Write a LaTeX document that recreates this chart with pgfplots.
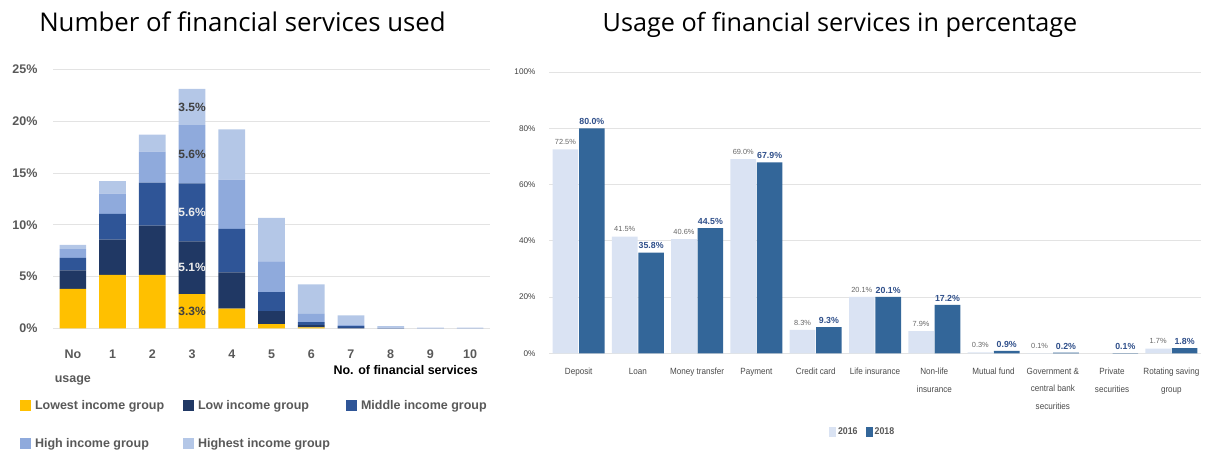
\documentclass[border=0pt]{standalone}
\usepackage{fontspec}
\setmainfont{Liberation Sans}
\newfontfamily\titlefont{Open Sans}
\newfontfamily\narrowfont[FakeStretch=0.9]{Liberation Sans}
\usepackage{pgfplots}
\pgfplotsset{compat=1.18}
\definecolor{cLowest}{HTML}{FFC000}
\definecolor{cLow}{HTML}{203864}
\definecolor{cMid}{HTML}{2F5597}
\definecolor{cHigh}{HTML}{8FAADC}
\definecolor{cHighest}{HTML}{B4C7E7}
\definecolor{c2016}{HTML}{DAE3F3}
\definecolor{c2018}{HTML}{336699}
\definecolor{lab18}{HTML}{2F4F8A}
\definecolor{tickgray}{HTML}{595959}
\definecolor{labgray}{HTML}{404040}
\definecolor{catgray}{HTML}{4A4A4A}
\definecolor{gridgray}{HTML}{E3E3E3}
\begin{document}
\begin{tikzpicture}
\path[use as bounding box] (0,0) rectangle (1205pt,451pt);
% titles
\node[font=\titlefont\fontsize{25.8}{28}\selectfont, anchor=base] at (242.5pt,419.3pt) {Number of financial services used};
\node[font=\titlefont\fontsize{25.2}{28}\selectfont, anchor=base] at (840pt,419.8pt) {Usage of financial services in percentage};
% left chart
\begin{axis}[
  at={(53pt,122.7pt)}, anchor=south west, scale only axis,
  width=437pt, height=259pt,
  ybar stacked, bar width=26.7pt,
  xmin=-0.5, xmax=10.5, ymin=0, ymax=25,
  axis line style={draw=none}, tick style={draw=none},
  ymajorgrids, grid style={draw=gridgray, line width=0.8pt},
  ytick={0,5,10,15,20,25},
  /pgf/number format/assume math mode=true,
  yticklabel={\pgfmathprintnumber{\tick}\%},
  yticklabel style={font=\bfseries\fontsize{12.5}{14}\selectfont, text=tickgray, xshift=-12pt},
  xtick={0,1,2,3,4,5,6,7,8,9,10},
  xticklabels={{No\\[10pt]usage},1,2,3,4,5,6,7,8,9,10},
  xticklabel style={font=\bfseries\fontsize{12.5}{14}\selectfont, text=tickgray, align=center, anchor=north, yshift=-18pt},
  legend columns=3,
  legend style={at={(axis description cs:-0.0755,-0.270)}, anchor=north west, draw=none, inner sep=0pt, outer sep=0pt,
    font=\bfseries\fontsize{12.5}{14}\selectfont, text=tickgray,
    /tikz/every odd column/.append style={column sep=2pt},
    row sep=23.5pt},
  legend image code/.code={\fill[#1] (0pt,-5.5pt) rectangle (11pt,5.5pt);},
]
\addplot[fill=cLowest, draw=none] coordinates {(0,3.8)(1,5.15)(2,5.15)(3,3.3)(4,1.9)(5,0.4)(6,0.1)(7,0)(8,0)(9,0)(10,0)};
\addplot[fill=cLow, draw=none] coordinates {(0,1.8)(1,3.4)(2,4.75)(3,5.1)(4,3.5)(5,1.25)(6,0.2)(7,0.05)(8,0)(9,0)(10,0)};
\addplot[fill=cMid, draw=none] coordinates {(0,1.2)(1,2.5)(2,4.15)(3,5.6)(4,4.2)(5,1.85)(6,0.3)(7,0.15)(8,0.02)(9,0)(10,0)};
\addplot[fill=cHigh, draw=none] coordinates {(0,0.85)(1,1.95)(2,3.0)(3,5.6)(4,4.75)(5,2.95)(6,0.8)(7,0.1)(8,0.05)(9,0.02)(10,0.02)};
\addplot[fill=cHighest, draw=none] coordinates {(0,0.4)(1,1.2)(2,1.65)(3,3.5)(4,4.85)(5,4.2)(6,2.85)(7,0.95)(8,0.15)(9,0.05)(10,0.05)};
\addlegendentry{\makebox[146pt][l]{Lowest income group}}
\addlegendentry{\makebox[146pt][l]{Low income group}}
\addlegendentry{\makebox[146pt][l]{Middle income group}}
\addlegendentry{\makebox[146pt][l]{High income group}}
\addlegendentry{\makebox[146pt][l]{Highest income group}}
\coordinate (s1) at (axis cs:3,1.65);
\coordinate (s2) at (axis cs:3,5.85);
\coordinate (s3) at (axis cs:3,11.2);
\coordinate (s4) at (axis cs:3,16.8);
\coordinate (s5) at (axis cs:3,21.35);
\end{axis}
\node[font=\bfseries\fontsize{12}{14}\selectfont, text=labgray] at (s1) {3.3\%};
\node[font=\bfseries\fontsize{12}{14}\selectfont, text=white!92!black] at (s2) {5.1\%};
\node[font=\bfseries\fontsize{12}{14}\selectfont, text=white!92!black] at (s3) {5.6\%};
\node[font=\bfseries\fontsize{12}{14}\selectfont, text=labgray] at (s4) {5.6\%};
\node[font=\bfseries\fontsize{12}{14}\selectfont, text=labgray] at (s5) {3.5\%};
\node[font=\bfseries\fontsize{12.5}{14}\selectfont, anchor=east, inner sep=0pt] at (478pt,81pt) {No. of financial services};
% right chart
\begin{axis}[
  at={(549pt,97.7pt)}, anchor=south west, scale only axis,
  width=652pt, height=281.3pt,
  ybar=0.8pt, bar width=25.6pt,
  xmin=-0.5, xmax=10.5, ymin=0, ymax=100,
  axis line style={draw=none}, tick style={draw=none},
  ymajorgrids, grid style={draw=gridgray, line width=0.8pt},
  ytick={0,20,40,60,80,100},
  /pgf/number format/assume math mode=true,
  yticklabel={\pgfmathprintnumber{\tick}\%},
  yticklabel style={font=\fontsize{8.2}{10}\selectfont, text=labgray, xshift=-10pt},
  xtick={0,1,2,3,4,5,6,7,8,9,10},
  xticklabels={Deposit, Loan, Money transfer, Payment, Credit card, Life insurance, {Non-life\\insurance}, Mutual fund, {Government \&\\central bank\\securities}, {Private\\securities}, {Rotating saving\\group}},
  xticklabel style={font=\narrowfont\fontsize{9}{17.5}\selectfont, text=catgray, align=center, anchor=north, yshift=-7pt},
  legend columns=2,
  legend style={at={(axis description cs:0.481,-0.279)}, anchor=center, draw=none, inner sep=0pt,
    font=\narrowfont\bfseries\fontsize{9.8}{11}\selectfont, text=tickgray,
    /tikz/every odd column/.append style={column sep=0pt},
    /tikz/every even column/.append style={column sep=6pt}},
  legend image code/.code={\fill[#1] (0pt,-5pt) rectangle (7pt,5pt);},
]
\addplot[fill=c2016, draw=none, nodes near coords={\pgfmathprintnumber[fixed,fixed zerofill,precision=1]{\pgfplotspointmeta}\%},
  every node near coord/.append style={font=\fontsize{7.4}{9}\selectfont, text=black!60, yshift=1pt}]
  coordinates {(0,72.5)(1,41.5)(2,40.6)(3,69.0)(4,8.3)(5,20.1)(6,7.9)(7,0.3)(8,0.1)(10,1.7)};
\addplot[fill=c2018, draw=none, nodes near coords={\pgfmathprintnumber[fixed,fixed zerofill,precision=1]{\pgfplotspointmeta}\%},
  every node near coord/.append style={font=\bfseries\fontsize{8.8}{10}\selectfont, text=lab18, yshift=0pt}]
  coordinates {(0,80.0)(1,35.8)(2,44.5)(3,67.9)(4,9.3)(5,20.1)(6,17.2)(7,0.9)(8,0.2)(9,0.1)(10,1.8)};
\addlegendentry{2016}
\addlegendentry{2018}
\end{axis}
\end{tikzpicture}
\end{document}
